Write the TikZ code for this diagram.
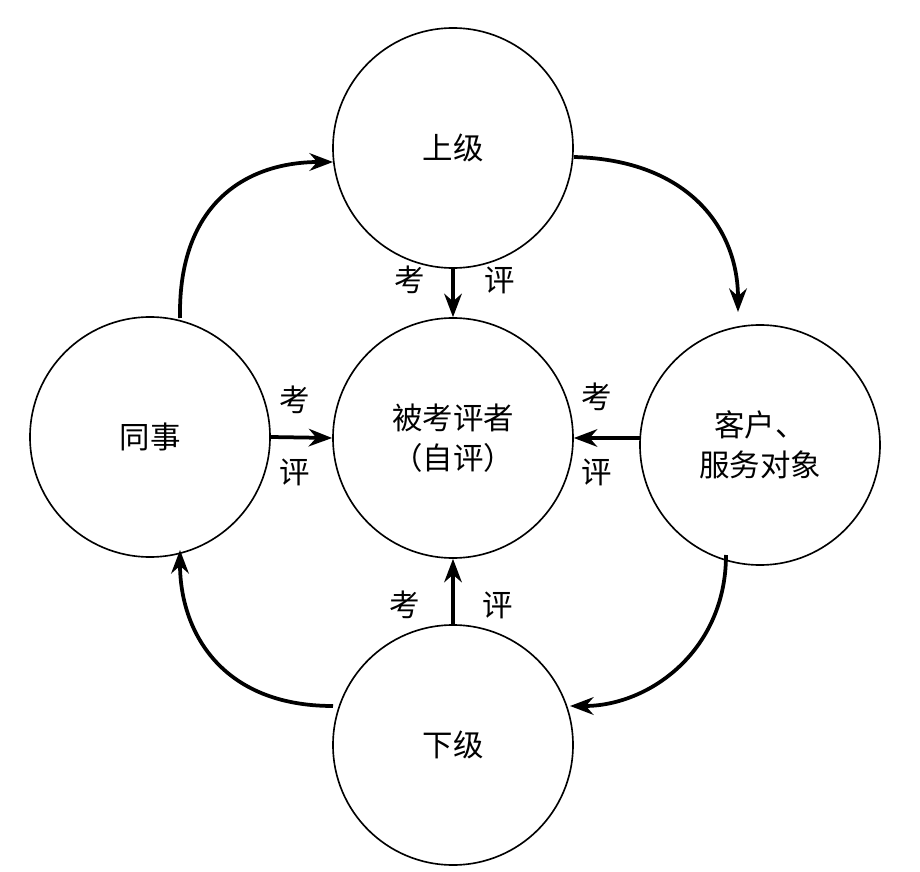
\documentclass[tikz,border=0pt]{standalone}
\usepackage{fontspec}
\newfontfamily\cjk{Noto Sans CJK SC}
\usetikzlibrary{arrows.meta}
\begin{document}
\begin{tikzpicture}[x=0.03cm,y=-0.03cm,
  circ/.style={circle,draw,line width=1.4pt,minimum size=7.2cm,inner sep=0pt,align=center,font=\cjk\fontsize{26}{34}\selectfont},
  lab/.style={font=\cjk\fontsize{26}{30}\selectfont},
  arr/.style={line width=3.2pt,-{Stealth[length=20pt,width=15pt]}}]
\useasboundingbox (0,0) rectangle (920,872);
\node[circ] (top) at (453,148) {上级};
\node[circ] (mid) at (453,438) {被考评者\\（自评）};
\node[circ] (left) at (150,437) {同事};
\node[circ] (right) at (760,445) {客户、\\服务对象};
\node[circ] (bot) at (453,745) {下级};
\draw[arr] (top.south) -- (mid.north);
\draw[arr] (bot.north) -- (mid.south);
\draw[arr] (left.east) -- (mid.west);
\coordinate (rw) at (641,438);
\draw[arr] (rw) -- (mid.east);
\node[lab] (k1) at (410,280) {考}; \node[lab] (p1) at (500,280) {评};
\node[lab] (k2) at (405,605) {考}; \node[lab] (p2) at (498,605) {评};
\node[lab] (k3) at (295,400) {考}; \node[lab] (p3) at (295,472) {评};
\node[lab] (k4) at (597,397) {考}; \node[lab] (p4) at (597,472) {评};
\coordinate (a1) at (180,318); \coordinate (a2) at (333,162);
\coordinate (b1) at (574,157); \coordinate (b2) at (738,312);
\coordinate (c1) at (726,555); \coordinate (c2) at (570,706);
\coordinate (d1) at (333,706); \coordinate (d2) at (180,550);
\draw[arr] (a1) .. controls (178,200) and (250,162) .. (a2);
\draw[arr] (b1) .. controls (690,160) and (738,230) .. (b2);
\draw[arr] (c1) .. controls (726,650) and (650,706) .. (c2);
\draw[arr] (d1) .. controls (220,706) and (180,630) .. (d2);
\end{tikzpicture}
\end{document}
